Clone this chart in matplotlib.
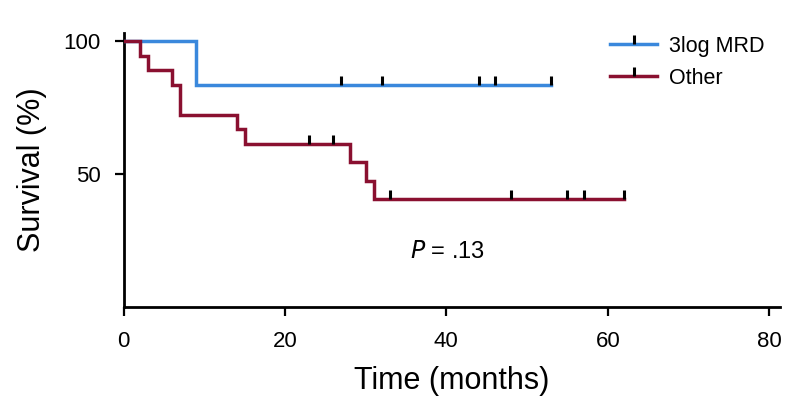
import numpy as np
import matplotlib
matplotlib.use("Agg")
import matplotlib.pyplot as plt
from matplotlib.lines import Line2D

plt.rcParams['font.family'] = ['Liberation Sans', 'DejaVu Sans']

# Data
series_names = ["3log MRD", "Other"]
blue_t = [0, 9, 53]
blue_s = [100, 83.3, 83.3]
blue_censor = [27, 32, 44, 46, 53]

red_t = [0, 2, 3, 6, 7, 14, 15, 28, 30, 31, 62]
red_s = [100, 94.4, 88.9, 83.3, 72.2, 66.7, 61.1, 54.3, 47.5, 40.7, 40.7]
red_censor = [23, 26, 33, 48, 55, 57, 62]

x_ticks = [0, 20, 40, 60, 80]
y_ticks = [50, 100]
p_text = "$P$ = .13"

blue_c = "#3a88dc"
red_c = "#8a1030"

def step_at(ts, ss, x):
    idx = np.searchsorted(np.asarray(ts), x, side='right') - 1
    return np.asarray(ss)[idx]

fig = plt.figure(figsize=(8.05, 4.16), dpi=100)
ax = fig.add_axes([0.1535, 0.262, 0.816, 0.659])

for ts, ss, cens, col, name in [(blue_t, blue_s, blue_censor, blue_c, series_names[0]),
                                (red_t, red_s, red_censor, red_c, series_names[1])]:
    ax.plot(ts, ss, drawstyle='steps-post', color=col, lw=2.5, solid_joinstyle='miter', zorder=3)
    ax.plot(cens, step_at(ts, ss, cens), linestyle='none', marker=2, markersize=6.5,
            markeredgewidth=2.2, color='black', zorder=4)

ax.set_xlim(0, 81.4)
ax.set_ylim(0, 103)
ax.set_xticks(x_ticks)
ax.set_yticks(y_ticks)
for s in ['top', 'right']:
    ax.spines[s].set_visible(False)
for s in ['left', 'bottom']:
    ax.spines[s].set_linewidth(2)
ax.tick_params(axis='both', width=1.6, length=6.5, labelsize=16, colors='black')
ax.tick_params(axis='x', pad=11)
ax.tick_params(axis='y', pad=10)

ax.set_xlabel("Time (months)", fontsize=22, labelpad=10)
ax.set_ylabel("Survival (%)", fontsize=22, labelpad=12)

ax.text(40.2, 20.7, p_text, fontsize=17, ha='center', va='center')

handles = [Line2D([0], [0], color=blue_c, lw=2.5, marker=2, markersize=6.5, markeredgewidth=2.2, markeredgecolor='black'),
           Line2D([0], [0], color=red_c, lw=2.5, marker=2, markersize=6.5, markeredgewidth=2.2, markeredgecolor='black')]
leg = ax.legend(handles, series_names, loc='upper left', bbox_to_anchor=(0.711, 1.06), frameon=False,
                fontsize=15.5, numpoints=1, handlelength=2.2, handletextpad=0.55, labelspacing=0.5)

fig.savefig("out.png", dpi=100)
